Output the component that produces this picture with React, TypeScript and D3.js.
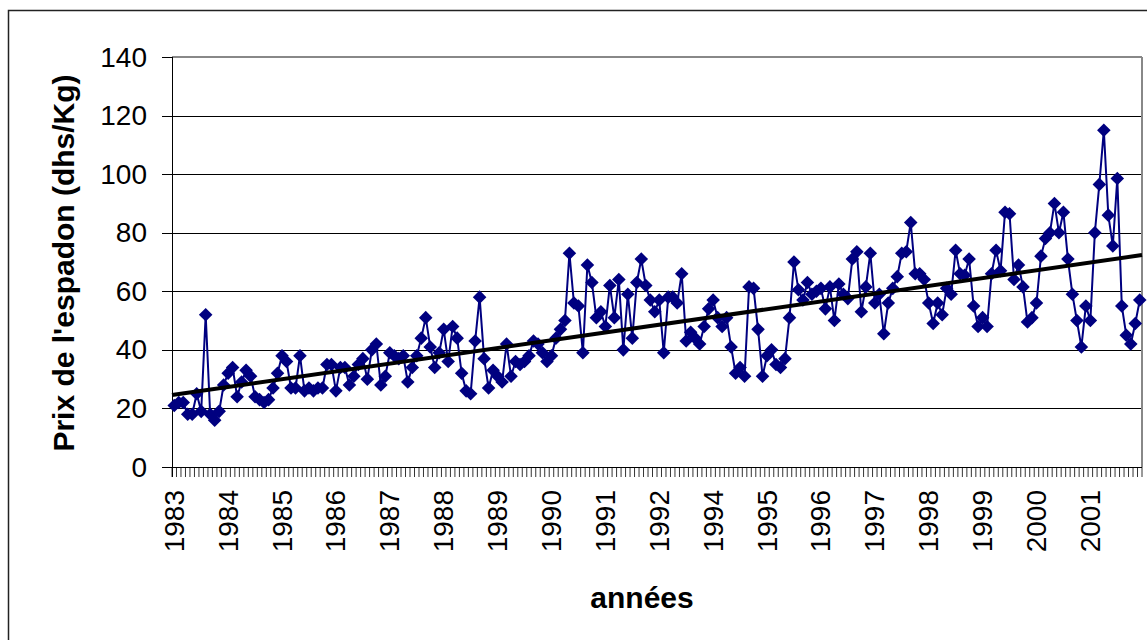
import React from "react";
import * as d3 from "d3";

const prices: number[] = [
  21, 22, 22, 18, 18, 25, 19, 52, 18, 16,
  19, 28, 32, 34, 24, 29, 33, 31, 24, 23,
  22, 23, 27, 32, 38, 36, 27, 27, 38, 26,
  27, 26, 27, 27, 35, 35, 26, 34, 34, 28,
  31, 35,
  37, 30, 40, 42, 28, 31, 39, 38,
  37, 38, 29, 34, 38, 44, 51, 41, 34, 39,
  47, 36, 48, 44, 32, 26, 25, 43, 58, 37,
  27, 33, 31, 29, 42, 31, 36, 35, 36, 38,
  43, 42,
  39, 36, 38, 44, 47, 50, 73, 56,
  55, 39, 69, 63, 51, 53, 48, 62, 51, 64,
  40, 59, 44, 63, 71, 62, 57, 53, 57, 39,
  58, 58, 56, 66, 43, 46, 44, 42, 48, 54,
  57, 51, 48,
  51, 41, 32, 34, 31, 61.5, 61,
  47, 31, 38, 40, 35, 34, 37, 51, 70, 60.5,
  57, 63, 59, 60, 61, 54, 61.5, 50, 62.5, 59,
  57.5, 71, 73.5, 53, 61.5, 73, 56, 59, 45.5, 56,
  61, 65, 73, 73.5, 83.5, 66, 66, 64, 56,
  49, 56, 52, 61, 59, 74, 66, 65.5, 71, 55,
  48, 51, 48, 66, 74, 67, 87, 86.5, 64, 69,
  61.5, 49.5, 51, 56, 72, 78, 80, 90, 80, 87,
  71, 59, 50, 41, 55, 50, 80, 96.5, 115, 86,
  75.5, 98.5, 55, 45, 42, 49, 57,
];

const yearLabels: string[] = [
  "1983", "1984", "1985", "1986", "1987", "1988", "1989", "1990", "1991",
  "1992", "1994", "1995", "1996", "1997", "1998", "1999", "2000", "2001",
];

const yTicks: number[] = [0, 20, 40, 60, 80, 100, 120, 140];

const FONT = "Arial, 'Liberation Sans', Helvetica, sans-serif";

export default function App() {
  const W = 1147;
  const H = 640;
  const left = 172;
  const right = 1142;
  const top = 57;
  const bottom = 467;

  const n = prices.length;
  const idx = d3.range(n);
  const x = d3.scaleBand<number>().domain(idx).range([left, right]).padding(0);
  const bw = x.bandwidth();
  const cx = (i: number) => (x(i) as number) + bw / 2;
  const y = d3.scaleLinear().domain([0, 140]).range([bottom, top]);

  // linear trend (least squares)
  const mx = d3.mean(idx) as number;
  const my = d3.mean(prices) as number;
  let sxy = 0;
  let sxx = 0;
  idx.forEach((i) => {
    sxy += (i - mx) * (prices[i] - my);
    sxx += (i - mx) * (i - mx);
  });
  const slope = sxy / sxx;
  const intercept = my - slope * mx;
  const t0 = -0.5;
  const t1 = n - 0.5;

  const line = d3
    .line<number>()
    .x((_, i) => cx(i))
    .y((d) => y(d));

  const diamond = d3.symbol().type(d3.symbolSquare).size(92)() as string;

  const tickXs = d3.range(n + 1).map((i) => left + i * bw);

  return (
    <div style={{ position: "absolute", left: 0, top: 0 }}>
      <svg width={W} height={H} style={{ display: "block", background: "#fff" }}>
        <rect x={8.5} y={10.5} width={W + 20} height={H + 20} fill="#fff" stroke="#222" strokeWidth={1.5} />
        {/* gridlines */}
        {yTicks.slice(1, -1).map((t) => (
          <line key={t} x1={left} x2={right} y1={Math.round(y(t)) + 0.5} y2={Math.round(y(t)) + 0.5} stroke="#000" strokeWidth={1} />
        ))}
        {/* plot border top/right */}
        <line x1={left} x2={right} y1={top} y2={top} stroke="#888" strokeWidth={2} />
        <line x1={right} x2={right} y1={top} y2={bottom} stroke="#888" strokeWidth={2} />
        {/* y axis */}
        <line x1={left + 0.5} x2={left + 0.5} y1={top} y2={bottom + 10} stroke="#000" strokeWidth={1} />
        {yTicks.map((t) => (
          <g key={t}>
            <line x1={162} x2={left} y1={Math.round(y(t)) + 0.5} y2={Math.round(y(t)) + 0.5} stroke="#000" strokeWidth={1} />
            <text x={147} y={y(t)} textAnchor="end" dominantBaseline="central" fontFamily={FONT} fontSize={28} fill="#000">
              {t}
            </text>
          </g>
        ))}
        {/* x axis */}
        <line x1={left} x2={right} y1={bottom + 0.5} y2={bottom + 0.5} stroke="#000" strokeWidth={1} />
        {tickXs.map((tx, i) => (
          <line key={i} x1={tx} x2={tx} y1={bottom} y2={bottom + 10} stroke="#000" strokeWidth={0.8} />
        ))}
        {yearLabels.map((lab, k) => (
          <text
            key={lab}
            transform={`translate(${cx(k * 12)},${490}) rotate(-90)`}
            textAnchor="end"
            dominantBaseline="central"
            fontFamily={FONT}
            fontSize={28}
            fill="#000"
          >
            {lab}
          </text>
        ))}
        {/* series */}
        <path d={line(prices) as string} fill="none" stroke="#000080" strokeWidth={2} />
        {prices.map((v, i) => (
          <path key={i} d={diamond} transform={`translate(${cx(i)},${y(v)}) rotate(45)`} fill="#000080" />
        ))}
        {/* trend line */}
        <line
          x1={left + (t0 + 0.5) * bw}
          y1={y(intercept + slope * t0)}
          x2={left + (t1 + 0.5) * bw}
          y2={y(intercept + slope * t1)}
          stroke="#000"
          strokeWidth={4}
        />
        {/* titles */}
        <text
          transform={`translate(63,263) rotate(-90)`}
          textAnchor="middle"
          dominantBaseline="central"
          fontFamily={FONT}
          fontSize={30}
          fontWeight="bold"
          fill="#000"
        >
          Prix de l'espadon (dhs/Kg)
        </text>
        <text x={642} y={597} textAnchor="middle" dominantBaseline="central" fontFamily={FONT} fontSize={30} fontWeight="bold" fill="#000">
          années
        </text>
      </svg>
    </div>
  );
}
